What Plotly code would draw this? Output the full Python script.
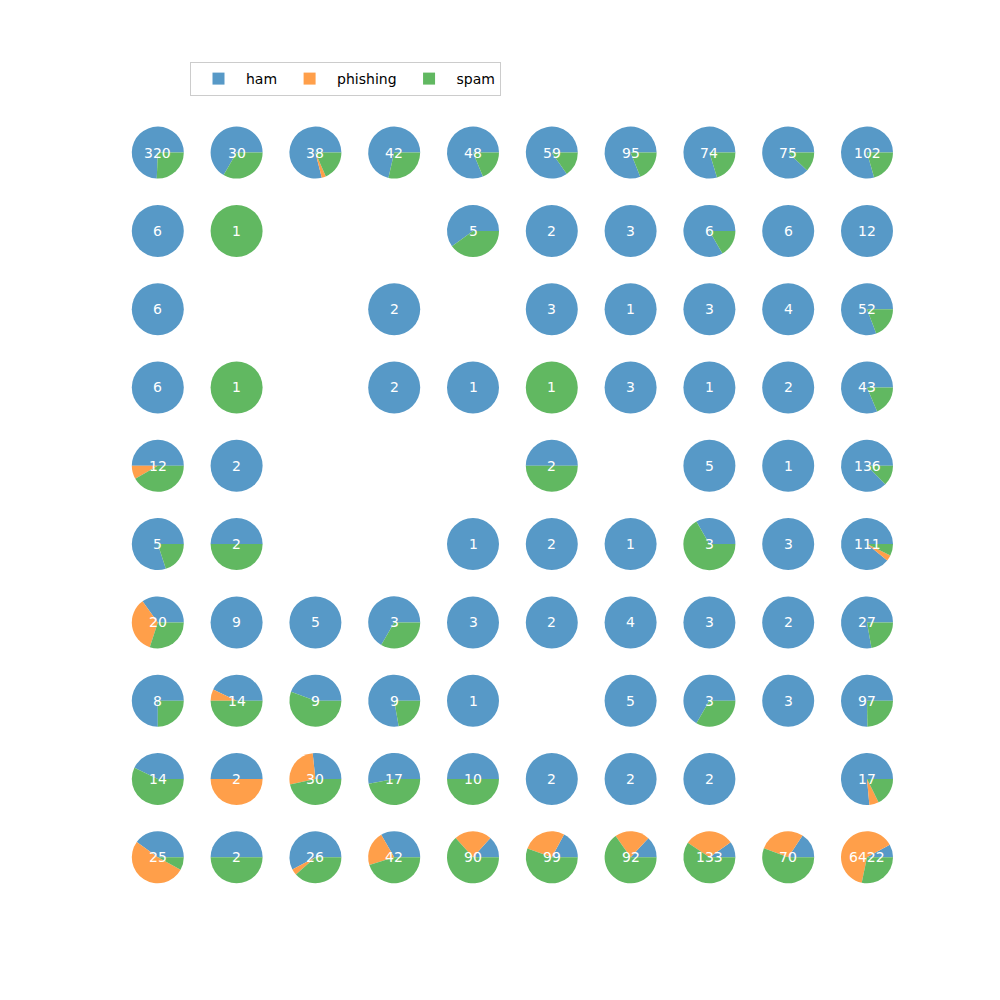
import plotly.graph_objects as go

labels = ["ham", "phishing", "spam"]
colors = ["#5799c7", "#ff9f4a", "#61b861"]

# 10x10 grid, rows top to bottom, columns left to right
ham = [
    [238, 20, 30, 30, 39, 50, 77, 59, 66, 81],
    [6, 0, 0, 0, 3, 2, 3, 5, 6, 12],
    [6, 0, 0, 2, 0, 3, 1, 3, 4, 42],
    [6, 0, 0, 2, 1, 0, 3, 1, 2, 35],
    [6, 2, 0, 0, 0, 1, 0, 5, 1, 119],
    [4, 1, 0, 0, 1, 2, 1, 1, 3, 99],
    [7, 9, 5, 2, 3, 2, 4, 3, 2, 21],
    [6, 6, 4, 7, 1, 0, 5, 2, 3, 73],
    [6, 1, 8, 9, 5, 2, 2, 2, 0, 13],
    [10, 1, 15, 14, 12, 17, 12, 13, 11, 516],
]
phishing = [
    [0, 0, 1, 0, 0, 0, 0, 0, 0, 0],
    [0, 0, 0, 0, 0, 0, 0, 0, 0, 0],
    [0, 0, 0, 0, 0, 0, 0, 0, 0, 0],
    [0, 0, 0, 0, 0, 0, 0, 0, 0, 0],
    [1, 0, 0, 0, 0, 0, 0, 0, 0, 0],
    [0, 0, 0, 0, 0, 0, 0, 0, 0, 4],
    [7, 0, 0, 0, 0, 0, 0, 0, 0, 0],
    [0, 1, 0, 0, 0, 0, 0, 0, 0, 0],
    [0, 1, 8, 0, 0, 0, 0, 0, 0, 1],
    [13, 0, 1, 9, 21, 27, 20, 41, 20, 4092],
]
spam = [
    [82, 10, 7, 12, 9, 9, 18, 15, 9, 21],
    [0, 1, 0, 0, 2, 0, 0, 1, 0, 0],
    [0, 0, 0, 0, 0, 0, 0, 0, 0, 10],
    [0, 1, 0, 0, 0, 1, 0, 0, 0, 8],
    [5, 0, 0, 0, 0, 1, 0, 0, 0, 17],
    [1, 1, 0, 0, 0, 0, 0, 2, 0, 8],
    [6, 0, 0, 1, 0, 0, 0, 0, 0, 6],
    [2, 7, 5, 2, 0, 0, 0, 1, 0, 24],
    [8, 0, 14, 8, 5, 0, 0, 0, 0, 3],
    [2, 1, 10, 19, 57, 55, 60, 79, 39, 1814],
]

W = H = 1000
x0c, y0c = 157.8, 152.6
dx, dy = 78.8, 78.3
r = 26

fig = go.Figure()
annotations = []
for i in range(10):
    for j in range(10):
        vals = [ham[i][j], phishing[i][j], spam[i][j]]
        total = sum(vals)
        if total == 0:
            continue
        cx = x0c + j * dx
        cy = y0c + i * dy
        # matplotlib-style: first wedge starts at 3 o'clock, going counterclockwise
        rot = 90 - 360.0 * vals[0] / total
        fig.add_trace(go.Pie(
            labels=labels, values=vals, sort=False,
            direction="counterclockwise", rotation=rot,
            marker=dict(colors=colors, line=dict(width=0)),
            textinfo="none", hoverinfo="label+value",
            domain=dict(x=[(cx - r) / W, (cx + r) / W],
                        y=[(H - cy - r) / H, (H - cy + r) / H]),
            showlegend=True,
        ))
        annotations.append(dict(
            x=cx / W, y=(H - cy) / H, xref="paper", yref="paper",
            xanchor="center", yanchor="middle",
            text=str(total), showarrow=False,
            font=dict(color="white", size=14, family="DejaVu Sans"),
        ))

fig.update_layout(
    width=W, height=H,
    margin=dict(l=0, r=0, t=0, b=0),
    paper_bgcolor="white", plot_bgcolor="white",
    annotations=annotations,
    legend=dict(
        orientation="h", x=0.19, y=0.938, xanchor="left", yanchor="top",
        bordercolor="#cccccc", borderwidth=1,
        font=dict(size=14, family="DejaVu Sans", color="black"),
        itemwidth=45, traceorder="normal",
    ),
    font=dict(family="DejaVu Sans"),
)

fig.write_html("out.html")
